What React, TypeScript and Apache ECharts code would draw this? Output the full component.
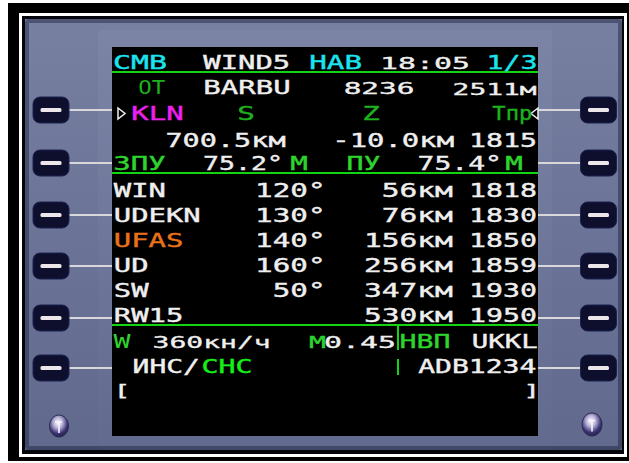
import React, { useEffect, useRef } from "react";
import * as echarts from "echarts";

const W = 629;
const H = 463;

// ---- data (texts shown on the CDU page) ----
const titleTexts = ["CMB", "WIND5", "HAB", "18:05", "1/3"];
const originTexts = ["ОТ", "BARBU", "8236", "2511м"];
const headTexts = ["KLN", "S", "Z", "Тпр"];
const offsetTexts = ["700.5км", "-10.0км", "1815"];
const trackTexts = ["ЗПУ", "75.2°", "М", "ПУ", "75.4°", "М"];
const waypoints = ["WIN", "UDEKN", "UFAS", "UD", "SW", "RW15"];
const windDirs = ["120°", "130°", "140°", "160°", "50°", ""];
const distances = ["56км", "76км", "156км", "256км", "347км", "530км"];
const etas = ["1818", "1830", "1850", "1859", "1930", "1950"];
const speedTexts = ["W", "360кн/ч", "M", "0.45", "НВП", "UKKL"];
const navTexts = ["ИНС/", "СНС", "ADB1234"];
const scratchTexts = ["[", "]"];
const activeWaypoint = 2;

// ---- styling ----
const C = {
  cyan: "#1ae4ee",
  white: "#efefef",
  greenDim: "#1eb01e",
  green: "#2ed42e",
  greenBright: "#14f014",
  magenta: "#ee20ee",
  orange: "#e8721c",
  line: "#12d412",
};
const FONT = '"DejaVu Sans Mono", "Liberation Mono", monospace';
const FS = 29.5;
const ADV = FS * 0.6021;
const KIND: Record<string, { sy: number; w: string; sw: number }> = {
  B: { sy: 0.66, w: "normal", sw: 0.6 },
  S: { sy: 0.54, w: "normal", sw: 0.6 },
  T: { sy: 0.64, w: "normal", sw: 0 },
};

function txt(s: string, cx: number, base: number, color: string, kind = "B", pitch = 17.6) {
  const k = KIND[kind];
  const style: any = {
    text: s,
    fill: color,
    font: `${k.w} ${FS}px ${FONT}`,
    align: "left",
    verticalAlign: "middle",
  };
  if (k.sw > 0) {
    style.stroke = color;
    style.lineWidth = k.sw;
  }
  return {
    type: "text",
    silent: true,
    x: cx - pitch / 2,
    y: base - 0.346 * FS * k.sy,
    scaleX: pitch / ADV,
    scaleY: k.sy,
    style,
  };
}
function txtRight(s: string, lastCx: number, base: number, color: string, kind = "B", pitch = 17.6) {
  const n = [...s].length;
  return txt(s, lastCx - (n - 1) * pitch, base, color, kind, pitch);
}

function buildElements() {
  const els: any[] = [];
  // outer frame
  els.push({ type: "rect", silent: true, shape: { x: 8, y: 3, width: 621, height: 458 }, style: { fill: "#000" } });
  els.push({ type: "rect", silent: true, shape: { x: 19, y: 13, width: 608, height: 444 }, style: { fill: "#fff" } });
  els.push({ type: "rect", silent: true, shape: { x: 22, y: 16, width: 602, height: 438 }, style: { fill: "#05060c" } });
  // bezel
  els.push({
    type: "rect",
    silent: true,
    shape: { x: 25, y: 19, width: 597, height: 431 },
    style: {
      fill: {
        type: "linear", x: 0, y: 0, x2: 0, y2: 1,
        colorStops: [
          { offset: 0, color: "#7880a2" },
          { offset: 0.5, color: "#6b7396" },
          { offset: 1, color: "#61698d" },
        ],
      },
    },
  });
  els.push({
    type: "rect", silent: true,
    shape: { x: 27, y: 21, width: 593, height: 427, r: 2 },
    style: { fill: "none", stroke: "rgba(25,28,55,0.45)", lineWidth: 4 },
  });
  // subtle lighter surround of the screen
  els.push({
    type: "rect", silent: true,
    shape: { x: 98, y: 30, width: 454, height: 420 },
    style: {
      fill: {
        type: "linear", x: 0, y: 0, x2: 0, y2: 1,
        colorStops: [
          { offset: 0, color: "rgba(150,158,190,0.16)" },
          { offset: 1, color: "rgba(150,158,190,0.02)" },
        ],
      },
    },
  });

  // screen
  els.push({ type: "rect", silent: true, shape: { x: 112, y: 47, width: 426, height: 389 }, style: { fill: "#000" } });

  // LSK buttons & connectors
  const btnY = [110, 163, 215, 266, 318, 368];
  btnY.forEach((y) => {
    els.push({ type: "line", silent: true, shape: { x1: 69, y1: y, x2: 112, y2: y }, style: { stroke: "#d8d8dc", lineWidth: 2 } });
    els.push({ type: "line", silent: true, shape: { x1: 538, y1: y, x2: 581, y2: y }, style: { stroke: "#d8d8dc", lineWidth: 2 } });
    [51, 598.5].forEach((cx) => {
      els.push({
        type: "rect", silent: true,
        shape: { x: cx - 18, y: y - 13, width: 36, height: 26, r: 7 },
        style: { fill: "#0d0f2c", stroke: "#1c2250", lineWidth: 1 },
      });
      els.push({
        type: "rect", silent: true,
        shape: { x: cx - 10.5, y: y - 2, width: 21, height: 4, r: 1.5 },
        style: { fill: "#ece6ea" },
      });
    });
  });

  // screws
  [[59, 426, 9.5, 11], [592, 424.5, 10, 11.5]].forEach(([cx, cy, rx, ry]) => {
    els.push({
      type: "ellipse", silent: true,
      shape: { cx, cy, rx, ry },
      style: {
        fill: {
          type: "radial", x: 0.45, y: 0.35, r: 0.7,
          colorStops: [
            { offset: 0, color: "#ffffff" },
            { offset: 0.35, color: "#b6b0d6" },
            { offset: 0.7, color: "#3c3474" },
            { offset: 1, color: "#1a1c3c" },
          ],
        },
        stroke: "#2a2c50", lineWidth: 1,
      },
    });
    els.push({ type: "line", silent: true, shape: { x1: cx, y1: cy - 4, x2: cx, y2: cy + 7 }, style: { stroke: "#f4f4ff", lineWidth: 1.6 } });
    els.push({ type: "line", silent: true, shape: { x1: cx - 4, y1: cy - 4, x2: cx + 3, y2: cy - 4 }, style: { stroke: "#f4f4ff", lineWidth: 1.6 } });
  });

  // separator lines
  [72, 173, 325].forEach((y) => {
    els.push({ type: "line", silent: true, shape: { x1: 112, y1: y, x2: 538, y2: y }, style: { stroke: C.line, lineWidth: 2 } });
  });
  els.push({ type: "line", silent: true, shape: { x1: 398, y1: 326, x2: 398, y2: 350 }, style: { stroke: C.line, lineWidth: 2 } });
  els.push({ type: "line", silent: true, shape: { x1: 398, y1: 359, x2: 398, y2: 375 }, style: { stroke: C.line, lineWidth: 2 } });

  // selection arrows
  els.push({ type: "polygon", silent: true, shape: { points: [[118, 108], [125, 113.5], [118, 119]] }, style: { fill: "none", stroke: C.white, lineWidth: 1.5 } });
  els.push({ type: "polygon", silent: true, shape: { points: [[538, 108], [531, 113.5], [538, 119]] }, style: { fill: "none", stroke: C.white, lineWidth: 1.5 } });

  // row 1 (title)
  els.push(txt(titleTexts[0], 122, 69, C.cyan, "B", 18));
  els.push(txt(titleTexts[1], 212, 69, C.white, "B", 17.4));
  els.push(txt(titleTexts[2], 318, 69, C.cyan, "B", 17.6));
  els.push(txt(titleTexts[3], 389, 69, C.white, "S", 18));
  els.push(txt(titleTexts[4], 495, 69, C.cyan, "B", 17));

  // row 2
  els.push(txt(originTexts[0], 145, 94.5, C.greenDim, "T", 13.5));
  els.push(txt(originTexts[1], 212, 94.5, C.white, "B", 17.5));
  els.push(txt(originTexts[2], 352.5, 94.5, C.white, "S", 17.75));
  els.push(txt(originTexts[3], 461, 94.5, C.white, "S", 16.8));

  // row 3
  els.push(txt(headTexts[0], 140, 120, C.magenta, "B", 17.5));
  els.push(txt(headTexts[1], 246, 120, C.greenDim, "B", 17.6));
  els.push(txt(headTexts[2], 371, 120, C.greenDim, "B", 17.6));
  els.push(txt(headTexts[3], 499, 120, C.greenDim, "B", 13.3));

  // row 4
  els.push(txt(offsetTexts[0], 174, 147, C.white, "B", 17.2));
  els.push(txt(offsetTexts[1], 341, 147, C.white, "B", 17.4));
  els.push(txt(offsetTexts[2], 477.5, 147, C.white, "B", 17));

  // row 5
  els.push(txt(trackTexts[0], 122, 170, C.green, "B", 17.5));
  els.push(txt(trackTexts[1], 211, 170, C.white, "B", 16));
  els.push(txt(trackTexts[2], 299, 170, C.green, "B", 17.6));
  els.push(txt(trackTexts[3], 355, 170, C.green, "B", 17));
  els.push(txt(trackTexts[4], 426, 170, C.white, "B", 16.9));
  els.push(txt(trackTexts[5], 514, 170, C.green, "B", 17.6));

  // waypoint table
  const rowBase = [197, 222, 247, 272, 297, 322];
  waypoints.forEach((wp, i) => {
    const b = rowBase[i];
    els.push(txt(wp, 122.5, b, i === activeWaypoint ? C.orange : C.white, "B", 17.4));
    if (windDirs[i]) els.push(txtRight(windDirs[i], 316.7, b, C.white, "B", 17.6));
    els.push(txtRight(distances[i], 444, b, C.white, "B", 17.8));
    els.push(txtRight(etas[i], 528.5, b, C.white, "B", 17));
  });

  // row 12
  els.push(txt(speedTexts[0], 122, 348, C.green, "T", 17));
  els.push(txt(speedTexts[1], 161, 348, C.white, "S", 16.9));
  els.push(txt(speedTexts[2], 317.5, 348, C.green, "S", 17));
  els.push(txt(speedTexts[3], 333, 348, C.white, "S", 18));
  els.push(txt(speedTexts[4], 408, 348, C.green, "B", 17));
  els.push(txt(speedTexts[5], 480, 348, C.white, "B", 16.5));

  // row 13
  els.push(txt(navTexts[0], 141, 373, C.white, "B", 16.8));
  els.push(txt(navTexts[1], 210, 373, C.greenBright, "B", 17));
  els.push(txt(navTexts[2], 426.7, 373, C.white, "B", 16.9));

  // scratchpad
  els.push(txt(scratchTexts[0], 122, 396, C.white, "S", 17));
  els.push(txt(scratchTexts[1], 531.7, 396, C.white, "S", 17));

  return els;
}

export default function App() {
  const ref = useRef<HTMLDivElement>(null);
  useEffect(() => {
    if (!ref.current) return;
    const chart = echarts.init(ref.current, null, { renderer: "svg" });
    chart.setOption({
      animation: false,
      backgroundColor: "#ffffff",
      graphic: { elements: buildElements() },
    });
    return () => chart.dispose();
  }, []);
  return (
    <div
      ref={ref}
      style={{ position: "absolute", left: 0, top: 0, width: W, height: H }}
    />
  );
}
